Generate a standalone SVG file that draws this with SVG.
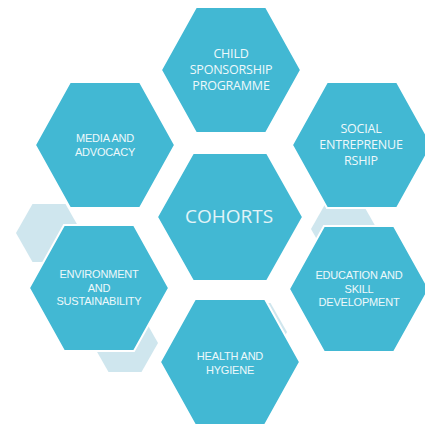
<svg xmlns="http://www.w3.org/2000/svg" width="425" height="425" viewBox="0 0 425 425">
<style>
.hex{fill:#42b8d3;stroke:#ffffff;stroke-width:2}
.lhex{fill:#cfe6ee}
text{font-family:"Open Sans","Noto Sans","DejaVu Sans",sans-serif;fill:#eef8fb;text-anchor:middle}
.s{font-family:"Liberation Sans",Arial,sans-serif;font-size:11px;letter-spacing:-0.2px}
.m{font-size:12.5px;letter-spacing:-0.2px}
.c{font-size:19px;fill:#e3f4f8}
</style>
<defs>
<path id="hx" d="M-70,0 L-35,-63 L35,-63 L70,0 L35,63 L-35,63 Z"/>
<path id="hxc" d="M-73,0 L-37,-64 L37,-64 L73,0 L37,64 L-37,64 Z"/>
<path id="lh" d="M-33,0 L-16.5,-29 L16.5,-29 L33,0 L16.5,29 L-16.5,29 Z"/>
</defs>
<rect width="425" height="425" fill="#ffffff"/>
<g id="decor">
<use href="#lh" class="lhex" x="49" y="233"/>
<use href="#lh" class="lhex" x="125" y="343"/>
<use href="#lh" class="lhex" x="344" y="229"/>
<use href="#lh" class="lhex" x="254" y="332"/>
</g>
<g id="connectors"></g>
<g id="child">
<use href="#hx" class="hex" x="231" y="70"/>
<text class="m" x="231" y="58">CHILD</text>
<text class="m" x="231" y="74">SPONSORSHIP</text>
<text class="m" x="231" y="90">PROGRAMME</text>
</g>
<g id="media">
<use href="#hx" class="hex" x="105" y="145"/>
<text class="s" x="105" y="142">MEDIA AND</text>
<text class="s" x="105" y="156">ADVOCACY</text>
</g>
<g id="social">
<use href="#hx" class="hex" x="362" y="145"/>
<text class="m" x="361" y="133">SOCIAL</text>
<text class="m" x="361" y="149">ENTREPRENUE</text>
<text class="m" x="361" y="165">RSHIP</text>
</g>
<g id="cohorts">
<use href="#hxc" class="hex" x="230" y="217"/>
<text class="c" x="229" y="223">COHORTS</text>
</g>
<g id="environment">
<use href="#hx" class="hex" x="99" y="288"/>
<text class="s" x="99" y="278">ENVIRONMENT</text>
<text class="s" x="99" y="292">AND</text>
<text class="s" x="99" y="305">SUSTAINABILITY</text>
</g>
<g id="education">
<use href="#hx" class="hex" x="359" y="289"/>
<text class="s" x="359" y="279">EDUCATION AND</text>
<text class="s" x="359" y="293">SKILL</text>
<text class="s" x="359" y="306">DEVELOPMENT</text>
</g>
<g id="health">
<use href="#hx" class="hex" x="230" y="362"/>
<text class="s" x="230" y="360">HEALTH AND</text>
<text class="s" x="230" y="374">HYGIENE</text>
</g>
</svg>
